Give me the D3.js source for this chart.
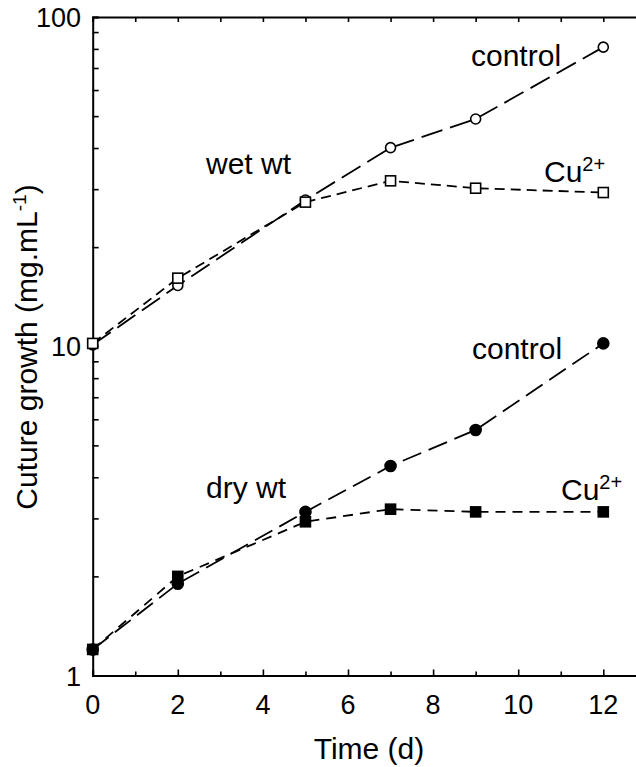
<!DOCTYPE html>
<html>
<head>
<meta charset="utf-8">
<script src="https://cdn.jsdelivr.net/npm/d3@7"></script>
<style>
  body { margin: 0; background: #fff; }
  svg text { font-family: "Liberation Sans", Arial, sans-serif; fill: #000; }
</style>
</head>
<body>
<div id="chart-area"></div>
<script>
// days sampled
var days = [0, 2, 5, 7, 9, 12];

// culture growth, mg/mL
var wetControl = [10.1, 15.3, 27.8, 40.1, 49.0, 81.0];
var wetCopper  = [10.2, 16.1, 27.4, 31.8, 30.2, 29.3];
var dryControl = [1.2, 1.9, 3.14, 4.33, 5.57, 10.2];
var dryCopper  = [1.2, 2.0, 2.93, 3.2, 3.14, 3.14];

var xTicks = [0, 2, 4, 6, 8, 10, 12];
var yTicks = [1, 10, 100];

var width = 636, height = 767;
var margin = {left: 92.7, top: 17, bottom: 91.5};

var svg = d3.select("#chart-area").append("svg")
    .attr("width", width)
    .attr("height", height);

var xScale = d3.scaleLinear().domain([0, 13]).range([margin.left, margin.left + 42.55 * 13]);
var yScale = d3.scaleLog().domain([1, 100]).range([height - margin.bottom, margin.top]);

var plotBottom = height - margin.bottom;

// axes
var minorX = d3.range(0, 13, 1);
var minorY = [];
[1, 10].forEach(function(dec) {
    for (var i = 2; i <= 9; i++) minorY.push(dec * i);
});

var bottomAxis = d3.axisBottom(xScale).tickValues(minorX)
    .tickSize(-5).tickFormat("");
var topAxis = d3.axisTop(xScale).tickValues(minorX)
    .tickSize(-5).tickFormat("");
var leftAxis = d3.axisLeft(yScale).tickValues(minorY.concat(yTicks))
    .tickSize(-6).tickFormat("");

function styleAxis(g) {
    g.select(".domain").attr("stroke", "#000").attr("stroke-width", 2);
    g.selectAll(".tick line").attr("stroke", "#000").attr("stroke-width", 1.6);
}

svg.append("g").attr("transform", "translate(0," + plotBottom + ")")
    .call(bottomAxis).call(styleAxis)
    .selectAll(".tick line").attr("y2", function(d) { return d % 2 === 0 ? -6 : -4; });
svg.append("g").attr("transform", "translate(0," + margin.top + ")")
    .call(topAxis).call(styleAxis);
svg.append("g").attr("transform", "translate(" + margin.left + ",0)")
    .call(leftAxis).call(styleAxis);

// tick labels
svg.selectAll(".xlab").data(xTicks).enter().append("text")
    .attr("class", "xlab")
    .attr("x", function(d) { return xScale(d); })
    .attr("y", 714)
    .attr("text-anchor", "middle")
    .style("font-size", "27px")
    .text(function(d) { return d; });

svg.selectAll(".ylab").data(yTicks).enter().append("text")
    .attr("class", "ylab")
    .attr("x", 81)
    .attr("y", function(d) { return yScale(d) + 10; })
    .attr("text-anchor", "end")
    .style("font-size", "27px")
    .text(function(d) { return d; });

svg.append("text")
    .attr("x", 369)
    .attr("y", 759)
    .attr("text-anchor", "middle")
    .style("font-size", "30px")
    .text("Time (d)");

var ylabel = svg.append("text")
    .attr("transform", "translate(37,347) rotate(-90)")
    .attr("text-anchor", "middle")
    .style("font-size", "30px");
ylabel.append("tspan").text("Cuture growth (mg.mL");
ylabel.append("tspan").attr("dy", -11).style("font-size", "19px").text("-1");
ylabel.append("tspan").attr("dy", 11).text(")");

// series
var series = [
    {vals: wetControl, dash: "22,8", marker: "circle", fill: "#fff"},
    {vals: wetCopper, dash: "10,6", marker: "square", fill: "#fff"},
    {vals: dryControl, dash: "20,8", marker: "circle", fill: "#000"},
    {vals: dryCopper, dash: "10,7", marker: "square", fill: "#000"}
];

var line = d3.line()
    .x(function(d) { return xScale(d[0]); })
    .y(function(d) { return yScale(d[1]); });

series.forEach(function(s) {
    var pts = days.map(function(d, i) { return [d, s.vals[i]]; });
    svg.append("path")
        .datum(pts)
        .attr("d", line)
        .attr("fill", "none")
        .attr("stroke", "#000")
        .attr("stroke-width", 1.8)
        .attr("stroke-dasharray", s.dash);

    if (s.marker === "circle") {
        svg.selectAll(null).data(pts).enter().append("circle")
            .attr("cx", function(d) { return xScale(d[0]); })
            .attr("cy", function(d) { return yScale(d[1]); })
            .attr("r", s.fill === "#000" ? 5.5 : 5)
            .style("stroke", "black")
            .style("stroke-width", 1.6)
            .style("fill", s.fill);
    } else {
        svg.selectAll(null).data(pts).enter().append("rect")
            .attr("x", function(d) { return xScale(d[0]) - 5; })
            .attr("y", function(d) { return yScale(d[1]) - 5; })
            .attr("width", 10)
            .attr("height", 10)
            .style("stroke", "black")
            .style("stroke-width", 1.6)
            .style("fill", s.fill);
    }
});

// annotations
function note(x, y, txt) {
    svg.append("text").attr("x", x).attr("y", y)
        .style("font-size", "30px").text(txt);
}
function copper(x, y) {
    var t = svg.append("text").attr("x", x).attr("y", y).style("font-size", "30px");
    t.append("tspan").text("Cu");
    t.append("tspan").attr("dy", -11).style("font-size", "20px").text("2+");
}
note(471, 66, "control");
note(206, 174, "wet wt");
copper(544, 182);
note(472, 359, "control");
note(206, 498, "dry wt");
copper(561, 500);
</script>
</body>
</html>
